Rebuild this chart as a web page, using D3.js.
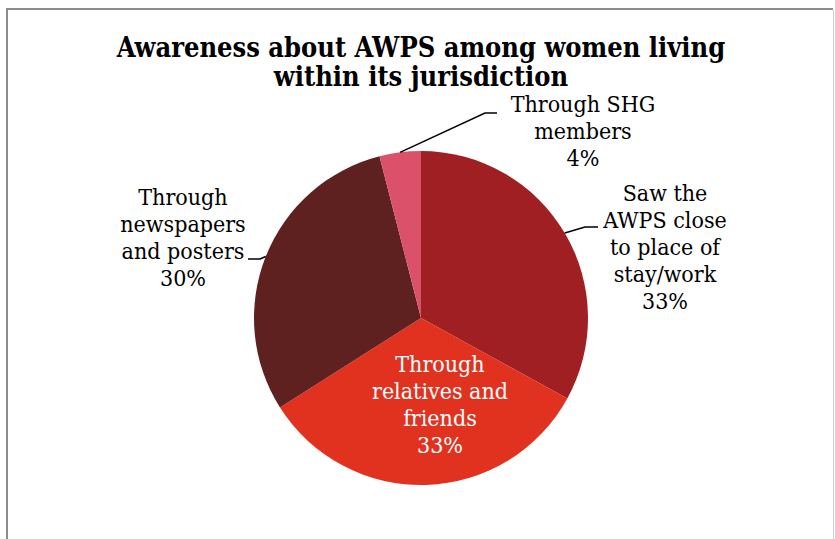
<!DOCTYPE html>
<html>
<head>
<meta charset="utf-8">
<script src="https://cdn.jsdelivr.net/npm/d3@7/dist/d3.min.js"></script>
<style>
  html, body { margin: 0; padding: 0; background: #fff; }
  svg { display: block; }
</style>
</head>
<body>
<svg id="chart" width="835" height="539"></svg>
<script>
// Sources of awareness, clockwise from 12 o'clock
const categories = [
  "Saw the AWPS close to place of stay/work",
  "Through relatives and friends",
  "Through newspapers and posters",
  "Through SHG members"
];
const shares = [33, 33, 30, 4];            // percent of respondents
const percentLabels = ["33%", "33%", "30%", "4%"];
const labelLines = [
  ["Saw the", "AWPS close", "to place of", "stay/work"],
  ["Through", "relatives and", "friends"],
  ["Through", "newspapers", "and posters"],
  ["Through SHG", "members"]
];
const sliceColors = ["#A01F22", "#E0321F", "#5F2120", "#DA5169"];
const titleLines = ["Awareness about AWPS among women living", "within its jurisdiction"];

const W = 835, H = 539;
const cx = 421, cy = 318, R = 167;
const serif = "'DejaVu Serif Condensed', 'DejaVu Serif', serif";

const svg = d3.select("#chart");

// frame
svg.append("line").attr("x1", 7).attr("x2", 7).attr("y1", 8).attr("y2", H)
  .attr("stroke", "#8c8c8c").attr("stroke-width", 2);
svg.append("line").attr("x1", 6).attr("x2", 833).attr("y1", 9).attr("y2", 9)
  .attr("stroke", "#8c8c8c").attr("stroke-width", 2);
svg.append("line").attr("x1", 833.5).attr("x2", 833.5).attr("y1", 10).attr("y2", H)
  .attr("stroke", "#cfcfcf").attr("stroke-width", 1);

// title
svg.append("text")
  .attr("x", cx).attr("text-anchor", "middle")
  .attr("font-family", serif).attr("font-weight", "bold").attr("font-size", 27)
  .attr("fill", "#000")
  .selectAll("tspan").data(titleLines).join("tspan")
  .attr("x", cx).attr("y", (d, i) => 57 + i * 29).text(d => d);

// pie
const pie = d3.pie().value(d => d).sort(null).startAngle(0).endAngle(2 * Math.PI);
const arcs = pie(shares);
const arc = d3.arc().innerRadius(0).outerRadius(R);

const g = svg.append("g").attr("transform", `translate(${cx},${cy})`);
g.selectAll("path").data(arcs).join("path")
  .attr("d", arc)
  .attr("fill", (d, i) => sliceColors[i]);

// label placement: centre x, first baseline, text colour, leader (elbow x/y, end x) or null
const labelLayout = [
  { x: 665, y: 201, fill: "#000", leader: { ex: 585, ey: 227, tx: 598 } },
  { x: 440, y: 372, fill: "#fff", leader: null },
  { x: 183, y: 205, fill: "#000", leader: { ex: 260, ey: 259, tx: 248 } },
  { x: 583, y: 112, fill: "#000", leader: { ex: 485, ey: 113, tx: 497 } }
];
const lineGap = 27;

arcs.forEach((a, i) => {
  const L = labelLayout[i];
  if (L.leader) {
    const mid = (a.startAngle + a.endAngle) / 2;
    const px = cx + R * Math.sin(mid), py = cy - R * Math.cos(mid);
    svg.append("path")
      .attr("d", d3.line()([[px, py], [L.leader.ex, L.leader.ey], [L.leader.tx, L.leader.ey]]))
      .attr("fill", "none").attr("stroke", "#000").attr("stroke-width", 1.5);
  }
  const lines = labelLines[i].concat([percentLabels[i]]);
  svg.append("text")
    .attr("text-anchor", "middle")
    .attr("font-family", serif).attr("font-size", 23)
    .attr("fill", L.fill)
    .selectAll("tspan").data(lines).join("tspan")
    .attr("x", L.x).attr("y", (d, k) => L.y + k * lineGap).text(d => d);
});
</script>
</body>
</html>
